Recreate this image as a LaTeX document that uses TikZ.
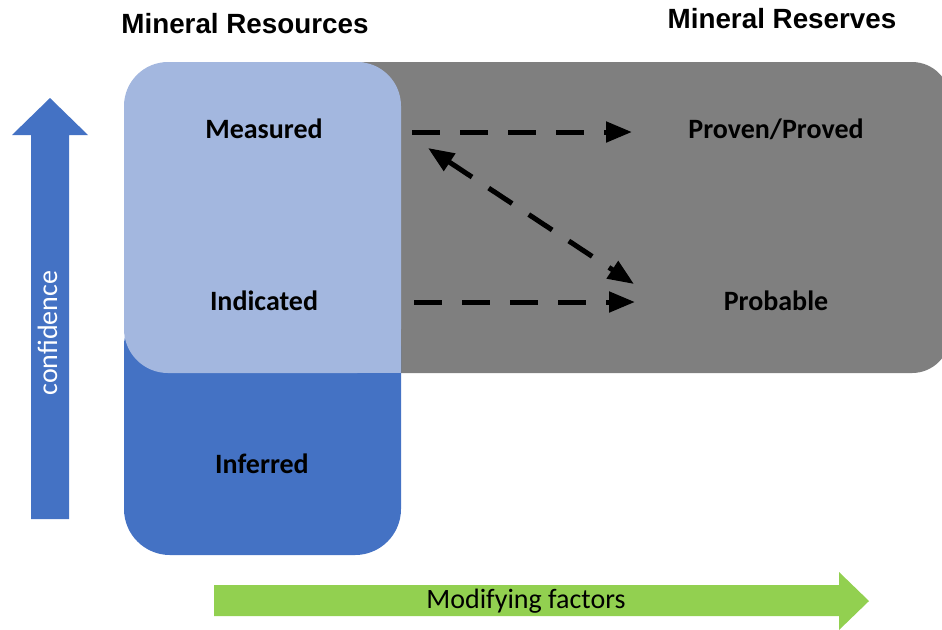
\documentclass[tikz,border=0pt]{standalone}
\usepackage{fontspec}
\setmainfont{Carlito}
\newfontfamily\headfont{Liberation Sans}
\usetikzlibrary{arrows.meta}
\definecolor{resgray}{HTML}{7F7F7F}
\definecolor{measblue}{HTML}{A3B7DF}
\definecolor{infblue}{HTML}{4472C4}
\definecolor{modgreen}{HTML}{92D050}

\begin{document}
\begin{tikzpicture}[x=0.5pt, y=-0.5pt,
		head/.style = {font=\headfont\bfseries\fontsize{13.9}{16}\selectfont, anchor=base, inner sep=0pt},
		cls/.style  = {font=\bfseries\fontsize{14}{16}\selectfont, anchor=base, inner sep=0pt},
		flow/.style = {line width=2.5pt, dash pattern=on 14pt off 10pt},
		>={Triangle[length=13pt,width=10pt]}
	]
	\useasboundingbox (0,0) rectangle (942,629);

	% reserves block behind, then inferred, then measured/indicated on top
	\fill[resgray, rounded corners=19pt] (330,62) rectangle (950,373);
	\fill[infblue, rounded corners=23pt] (124,300) rectangle (401,555);
	\fill[measblue, rounded corners=22pt] (124,62) rectangle (401,373);
	\fill[measblue] (360,330) rectangle (401,373);

	% big arrows
	\fill[infblue] (31,519) -- (31,135) -- (12,135) -- (50,98) -- (88,135) -- (69,135) -- (69,519) -- cycle;
	\fill[modgreen] (214,585) -- (839,585) -- (839,572) -- (869,601) -- (839,630) -- (839,616) -- (214,616) -- cycle;

	\node[head] (res)  at (245,33)  {Mineral Resources};
	\node[head] (rsv)  at (782,28)  {Mineral Reserves};
	\node[cls]  (meas) at (264,138) {Measured};
	\node[cls]  (ind)  at (264,310) {Indicated};
	\node[cls]  (inf)  at (262,473) {Inferred};
	\node[cls]  (prov) at (776,138) {Proven/Proved};
	\node[cls]  (prob) at (776,310) {Probable};
	\node[anchor=base, rotate=90, text=white, inner sep=0pt, font=\fontsize{14}{16}\selectfont] (conf) at (57,333) {confidence};
	\node[anchor=base, inner sep=0pt, font=\fontsize{14}{16}\selectfont] (mod) at (526,608) {Modifying factors};

	% conversion arrows
	\coordinate (meas-out) at (412,132);
	\coordinate (prov-in)  at (632,132);
	\coordinate (ind-out)  at (414,302);
	\coordinate (prob-in)  at (635,302);
	\coordinate (diag-a)   at (428,148);
	\coordinate (diag-b)   at (634,284);

	\draw[flow, ->] (meas-out) -- (prov-in);
	\draw[flow, ->] (ind-out) -- (prob-in);
	\draw[flow, <->] (diag-a) -- (diag-b);
\end{tikzpicture}
\end{document}
